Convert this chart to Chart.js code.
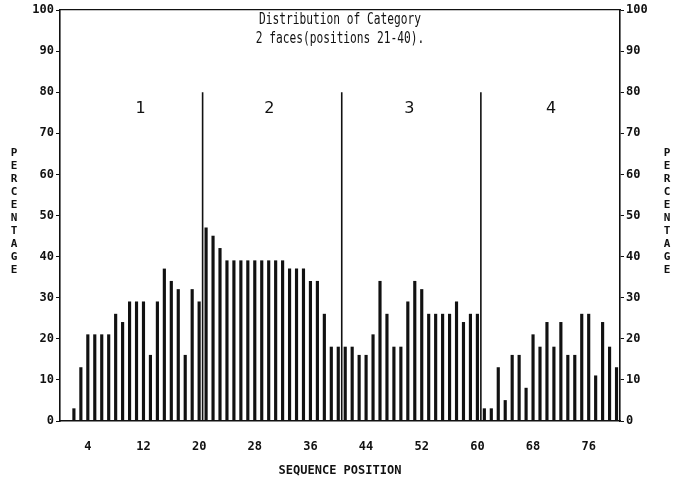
<!DOCTYPE html>
<html>
<head>
<meta charset="utf-8">
<script src="https://cdn.jsdelivr.net/npm/chart.js@4.4.1/dist/chart.umd.min.js"></script>
<style>
  html, body { margin: 0; padding: 0; background: #fff; }
  #wrap { width: 680px; height: 482px; }
</style>
</head>
<body>
<div id="wrap"><canvas id="seqChart"></canvas></div>
<script>
// sequence positions and percentage per position
const positions = [
  1, 2, 3, 4, 5, 6, 7, 8, 9, 10, 11, 12, 13, 14, 15, 16, 17, 18, 19, 20,
  21, 22, 23, 24, 25, 26, 27, 28, 29, 30, 31, 32, 33, 34, 35, 36, 37, 38, 39, 40,
  41, 42, 43, 44, 45, 46, 47, 48, 49, 50, 51, 52, 53, 54, 55, 56, 57, 58, 59, 60,
  61, 62, 63, 64, 65, 66, 67, 68, 69, 70, 71, 72, 73, 74, 75, 76, 77, 78, 79, 80,
];
const percentages = [
  0, 3, 13, 21, 21, 21, 21, 26, 24, 29, 29, 29, 16, 29, 37, 34, 32, 16, 32, 29,
  47, 45, 42, 39, 39, 39, 39, 39, 39, 39, 39, 39, 37, 37, 37, 34, 34, 26, 18, 18,
  18, 18, 16, 16, 21, 34, 26, 18, 18, 29, 34, 32, 26, 26, 26, 26, 29, 24, 26, 26,
  3, 3, 13, 5, 16, 16, 8, 21, 18, 24, 18, 24, 16, 16, 26, 26, 11, 24, 18, 13,
];
const xTicks = [4, 12, 20, 28, 36, 44, 52, 60, 68, 76];
const yTicks = [0, 10, 20, 30, 40, 50, 60, 70, 80, 90, 100];

// region dividers and region names
const dividers = [20.5, 40.5, 60.5];
const dividerTop = 80;
const regionNames = ["1", "2", "3", "4"];
const regionCentres = [11.6, 30.1, 50.2, 70.6];
const regionLabelY = 76;

const titleLines = ["Distribution of Category", "2 faces(positions 21-40)."];
const yLabel = "PERCENTAGE";
const xLabel = "SEQUENCE POSITION";

const tickFont = { family: "DejaVu Sans Mono", size: 12, weight: "bold" };

const barData = [];
for (let i = 0; i < positions.length; i++) {
  barData.push({ x: positions[i], y: percentages[i] });
}

const datasets = [
  {
    type: "bar",
    data: barData,
    backgroundColor: "#111",
    barThickness: 2.5,
    xAxisID: "x",
    yAxisID: "y",
  },
];
for (let i = 0; i < dividers.length; i++) {
  datasets.push({
    type: "line",
    data: [
      { x: dividers[i], y: 0 },
      { x: dividers[i], y: dividerTop },
    ],
    borderColor: "#111",
    borderWidth: 1.6,
    pointRadius: 0,
    xAxisID: "x",
    yAxisID: "y",
  });
}

const textPlugin = {
  id: "plotText",
  afterDraw(chart) {
    const ctx = chart.ctx;
    const xs = chart.scales.x;
    const ys = chart.scales.y;
    const area = chart.chartArea;
    ctx.save();
    ctx.fillStyle = "#111";
    ctx.textBaseline = "middle";
    ctx.textAlign = "center";

    // title inside the frame, narrow plotter-like lettering
    ctx.font = "16px 'DejaVu Sans Mono'";
    const cx = (area.left + area.right) / 2;
    for (let i = 0; i < titleLines.length; i++) {
      ctx.save();
      ctx.translate(cx, area.top + 10 + i * 19);
      ctx.scale(0.7, 1);
      ctx.fillText(titleLines[i], 0, 0);
      ctx.restore();
    }

    // region numbers
    ctx.font = "16px 'DejaVu Sans'";
    for (let i = 0; i < regionNames.length; i++) {
      ctx.fillText(
        regionNames[i],
        xs.getPixelForValue(regionCentres[i]),
        ys.getPixelForValue(regionLabelY)
      );
    }

    // stacked PERCENTAGE on both sides
    ctx.font = "bold 11px 'DejaVu Sans Mono'";
    const midY = ys.getPixelForValue(51);
    const step = 13;
    const startY = midY - ((yLabel.length - 1) * step) / 2;
    for (let i = 0; i < yLabel.length; i++) {
      ctx.fillText(yLabel[i], 14, startY + i * step);
      ctx.fillText(yLabel[i], chart.width - 13, startY + i * step);
    }
    ctx.restore();
  },
};

new Chart(document.getElementById("seqChart"), {
  data: { datasets: datasets },
  options: {
    responsive: true,
    maintainAspectRatio: false,
    animation: false,
    layout: { padding: { top: 10, left: 0, right: 0, bottom: 0 } },
    plugins: {
      legend: { display: false },
      tooltip: { enabled: false },
    },
    scales: {
      x: {
        type: "linear",
        offset: false,
        min: 0,
        max: 80.5,
        afterBuildTicks: (axis) => {
          axis.ticks = xTicks.map((v) => ({ value: v }));
        },
        afterFit: (axis) => {
          axis.height = 61;
        },
        grid: { drawOnChartArea: false, drawTicks: false },
        border: { color: "#111", width: 1.6 },
        ticks: { color: "#111", font: tickFont, padding: 19, maxRotation: 0 },
        title: {
          display: true,
          text: xLabel,
          color: "#111",
          font: tickFont,
          padding: { top: 0, bottom: 4 },
        },
      },
      xTop: {
        type: "linear",
        position: "top",
        offset: false,
        min: 0,
        max: 80.5,
        afterFit: (axis) => {
          axis.height = 0;
        },
        grid: { drawOnChartArea: false, drawTicks: false },
        border: { color: "#111", width: 1.2 },
        ticks: { display: false },
      },
      y: {
        position: "left",
        min: 0,
        max: 100,
        afterBuildTicks: (axis) => {
          axis.ticks = yTicks.map((v) => ({ value: v }));
        },
        afterFit: (axis) => {
          axis.width = 60;
        },
        grid: { drawOnChartArea: false, tickLength: 4, color: "#111" },
        border: { color: "#111", width: 1.6 },
        ticks: { color: "#111", font: tickFont, padding: 2 },
      },
      yRight: {
        position: "right",
        min: 0,
        max: 100,
        afterBuildTicks: (axis) => {
          axis.ticks = yTicks.map((v) => ({ value: v }));
        },
        afterFit: (axis) => {
          axis.width = 60;
        },
        grid: { drawOnChartArea: false, tickLength: 4, color: "#111" },
        border: { color: "#111", width: 1.6 },
        ticks: { color: "#111", font: tickFont, padding: 2 },
      },
    },
  },
  plugins: [textPlugin],
});
</script>
</body>
</html>
